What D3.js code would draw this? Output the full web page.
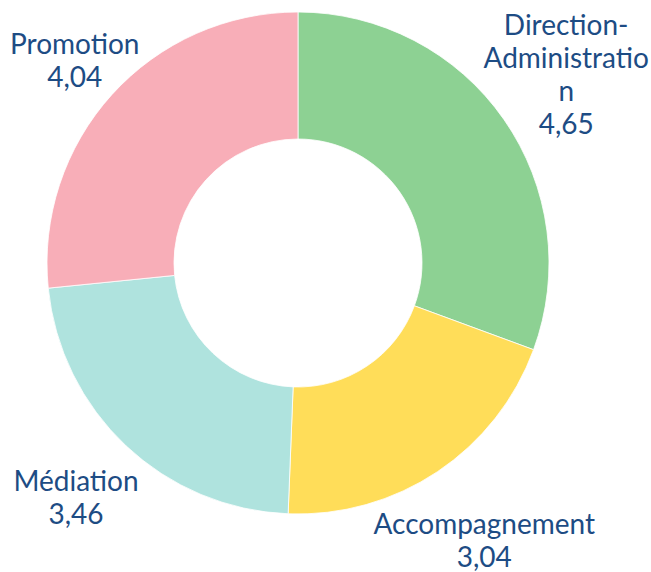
<!DOCTYPE html>
<html>
<head>
<meta charset="utf-8">
<script src="https://cdn.jsdelivr.net/npm/d3@7"></script>
<style>
  body { margin: 0; background: #fff; }
</style>
</head>
<body>
<div id="chart"></div>
<script>
var categories = ["Direction-Administration", "Accompagnement", "Médiation", "Promotion"];
var values = [4.65, 3.04, 3.46, 4.04];
var labelLines = [["Direction-", "Administratio", "n"], ["Accompagnement"], ["Médiation"], ["Promotion"]];
var colors = ["#8dd193", "#ffdd59", "#afe3de", "#f8aeb8"];

function init() {
    var w = 651, h = 572;
    var cx = 298, cy = 263, outerR = 251, innerR = 124;
    var labelR = [327, 335, 324, 301];
    var lineH = 33;

    var svg = d3.select("#chart")
        .append("svg")
        .attr("width", w)
        .attr("height", h);

    var dataset = categories.map(function (c, i) {
        return { name: c, value: values[i], lines: labelLines[i], i: i };
    });

    var pie = d3.pie()
        .sort(null)
        .value(function (d) { return d.value; });

    var arc = d3.arc()
        .innerRadius(innerR)
        .outerRadius(outerR);

    var g = svg.append("g")
        .attr("transform", "translate(" + cx + "," + cy + ")");

    var arcs = pie(dataset);

    g.selectAll("path")
        .data(arcs)
        .enter()
        .append("path")
        .attr("d", arc)
        .style("fill", function (d) { return colors[d.data.i]; })
        .style("stroke", "#fff")
        .style("stroke-width", 0.8);

    var fmt = function (v) { return d3.format(".2f")(v).replace(".", ","); };

    var labels = g.selectAll("text")
        .data(arcs)
        .enter()
        .append("text")
        .attr("text-anchor", "middle")
        .style("font-family", "Lato, sans-serif")
        .style("font-size", "28px")
        .style("fill", "#1d4c84")
        .attr("transform", function (d) {
            var a = (d.startAngle + d.endAngle) / 2;
            var r = labelR[d.data.i];
            var n = d.data.lines.length + 1;
            var x = r * Math.sin(a);
            var y = -r * Math.cos(a) - (n - 1) * lineH / 2 + 9;
            return "translate(" + x + "," + y + ")";
        });

    labels.each(function (d) {
        var t = d3.select(this);
        d.data.lines.concat([fmt(d.data.value)]).forEach(function (s, k) {
            t.append("tspan")
                .attr("x", 0)
                .attr("y", k * lineH)
                .text(s);
        });
    });
}

window.onload = init;
</script>
</body>
</html>
